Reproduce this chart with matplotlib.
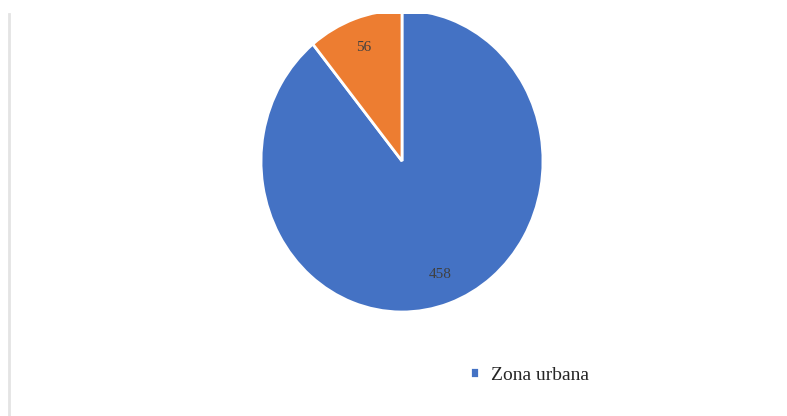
import matplotlib.pyplot as plt
from matplotlib.lines import Line2D

plt.rcParams['font.family'] = ['Liberation Serif', 'DejaVu Serif']

# --- data ---
zones = ['Zona urbana', 'Zona rural']
counts = [458, 56]
colors = ['#4472C4', '#ED7D31']

W, H = 787, 416
fig = plt.figure(figsize=(W / 100, H / 100), dpi=100)

# pie area (slightly stretched vertically, top clipped like the reference)
ax = fig.add_axes([261 / W, (H - 312) / H, 282 / W, 298 / H])
wedges, texts, autotexts = ax.pie(
    counts,
    colors=colors,
    startangle=90,
    counterclock=False,
    autopct=lambda p: f'{p * sum(counts) / 100:.0f}',
    pctdistance=0.8,
    wedgeprops=dict(edgecolor='white', linewidth=2),
    textprops=dict(color='#404040', fontsize=11),
)
for w in wedges:
    w.set_clip_on(True)
    w.set_clip_box(ax.bbox)
ax.set_aspect('auto')
ax.set_xlim(-1, 1)
ax.set_ylim(-1, 0.974)

# faint border line on the left
fig.add_artist(Line2D([9 / W, 9 / W], [0, (H - 14) / H], color='#e4e4e4', linewidth=2))

# legend (only first entry visible)
fig.legend([wedges[0]], [zones[0]], loc='center left',
           bbox_to_anchor=(452 / W, (H - 375) / H), frameon=False,
           fontsize=14, labelcolor='#262626',
           handlelength=0.5, handleheight=0.5, handletextpad=0.6)

fig.savefig('out.png', dpi=100)
